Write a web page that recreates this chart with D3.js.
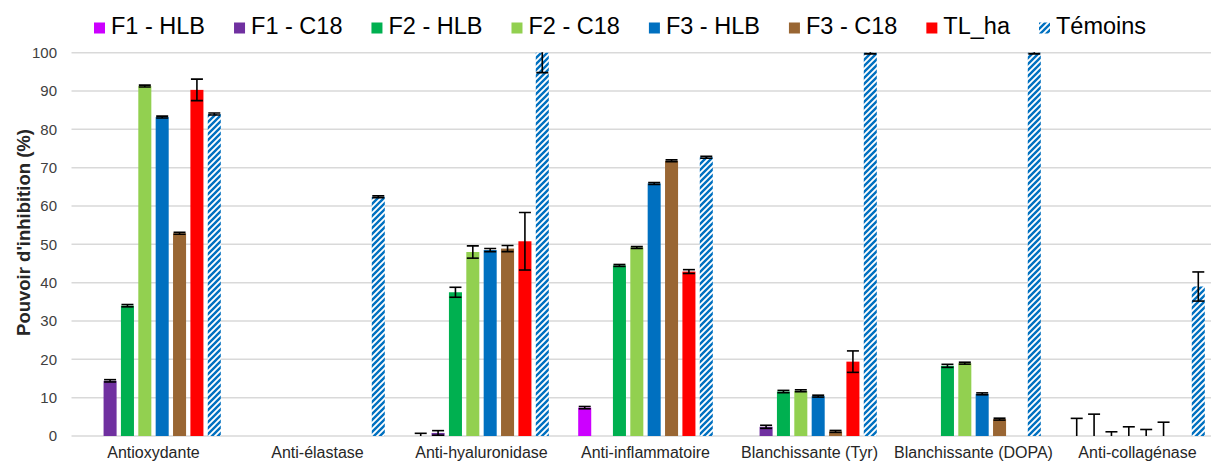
<!DOCTYPE html>
<html>
<head>
<meta charset="utf-8">
<script src="https://cdn.jsdelivr.net/npm/d3@7"></script>
<style>
  html, body { margin: 0; padding: 0; background: #fff; }
  svg { display: block; font-family: "Liberation Sans", Arial, sans-serif; }
</style>
</head>
<body>
<svg id="chart" width="1211" height="462"></svg>
<script>
// ---- Data ----
const categories = ["Antioxydante", "Anti-élastase", "Anti-hyaluronidase", "Anti-inflammatoire",
                    "Blanchissante (Tyr)", "Blanchissante (DOPA)", "Anti-collagénase"];
const seriesNames = ["F1 - HLB", "F1 - C18", "F2 - HLB", "F2 - C18", "F3 - HLB", "F3 - C18", "TL_ha", "Témoins"];
const yTicks = [0, 10, 20, 30, 40, 50, 60, 70, 80, 90, 100];

const f1HLB    = [null, null, 0,    7.4,  null, null, 0];
const f1HLBErr = [0,    0,    0.7,  0.3,  0,    0,    4.6];
const f1C18    = [14.4, null, 0.8,  null, 2.4,  null, 0];
const f1C18Err = [0.3,  0,    0.6,  0,    0.4,  0,    5.7];
const f2HLB    = [34.0, null, 37.5, 44.5, 11.6, 18.3, 0];
const f2HLBErr = [0.3,  0,    1.3,  0.25, 0.3,  0.4,  1.1];
const f2C18    = [91.3, null, 48.0, 49.2, 11.8, 19.0, 0];
const f2C18Err = [0.25, 0,    1.6,  0.25, 0.25, 0.25, 2.4];
const f3HLB    = [83.2, null, 48.5, 65.9, 10.4, 11.0, 0];
const f3HLBErr = [0.25, 0,    0.4,  0.25, 0.25, 0.25, 1.7];
const f3C18    = [52.9, null, 48.9, 71.8, 1.2,  4.4,  0];
const f3C18Err = [0.25, 0,    0.8,  0.25, 0.25, 0.25, 3.6];
const tlHa     = [90.3, null, 50.8, 42.9, 19.4, null, null];
const tlHaErr  = [2.8,  0,    7.5,  0.5,  2.8,  0,    0];
const temoins    = [84.0, 62.4, 100, 72.7, 100, 100, 39.0];
const temoinsErr = [0.25, 0.25, 5.2, 0.25, 0.3, 0.3, 3.8];

const seriesValues = [f1HLB, f1C18, f2HLB, f2C18, f3HLB, f3C18, tlHa, temoins];
const seriesErrors = [f1HLBErr, f1C18Err, f2HLBErr, f2C18Err, f3HLBErr, f3C18Err, tlHaErr, temoinsErr];
const seriesColors = ["#CC00FF", "#7030A0", "#00B050", "#92D050", "#0070C0", "#996633", "#FF0000", "url(#stripes)"];

// ---- Layout ----
const svg = d3.select("#chart");
const plotLeft = 71.5, bandW = 164, yTop = 52.7, yBottom = 436;

const x = d3.scaleBand().domain(categories).range([plotLeft, plotLeft + bandW * categories.length]);
const xInner = d3.scaleBand().domain(seriesNames).range([14.7, bandW - 14.7]).paddingInner(0.25);
const y = d3.scaleLinear().domain([0, 100]).range([yBottom, yTop]);

// pattern
const defs = svg.append("defs");
const pat = defs.append("pattern").attr("id", "stripes").attr("patternUnits", "userSpaceOnUse")
  .attr("width", 6).attr("height", 6);
pat.append("rect").attr("width", 6).attr("height", 6).attr("fill", "#fff");
pat.append("path").attr("d", "M-1,7 L7,-1 M-4,4 L4,-4 M2,10 L10,2")
  .attr("stroke", "#0070C0").attr("stroke-width", 2.4);
defs.append("clipPath").attr("id", "plotClip").append("rect")
  .attr("x", 0).attr("y", yTop - 0.5).attr("width", 1211).attr("height", yBottom - yTop + 0.5);

// gridlines
svg.append("g").selectAll("line").data(yTicks).join("line")
  .attr("x1", plotLeft).attr("x2", 1211)
  .attr("y1", d => y(d)).attr("y2", d => y(d))
  .attr("stroke", "#D9D9D9").attr("stroke-width", 1.5);

// y axis tick labels
const yAxis = d3.axisLeft(y).tickValues(yTicks).tickSize(0).tickPadding(0);
const yg = svg.append("g").attr("transform", `translate(${57},0)`).call(yAxis);
yg.select(".domain").remove();
yg.selectAll("text").attr("font-size", 15).attr("fill", "#404040")
  .attr("font-family", "Liberation Sans, Arial, sans-serif");

// x axis labels
const xAxis = d3.axisBottom(x).tickSize(0).tickPadding(0);
const xg = svg.append("g").attr("transform", `translate(0,${yBottom})`).call(xAxis);
xg.select(".domain").remove();
xg.selectAll("text").attr("font-size", 16).attr("fill", "#262626").attr("dy", null).attr("y", 22)
  .attr("font-family", "Liberation Sans, Arial, sans-serif");

// bars
const plot = svg.append("g").attr("clip-path", "url(#plotClip)");
const barData = [];
seriesNames.forEach((s, si) => {
  categories.forEach((c, ci) => {
    const v = seriesValues[si][ci];
    if (v !== null) barData.push({ s, si, c, v, e: seriesErrors[si][ci] });
  });
});
plot.selectAll("rect.bar").data(barData.filter(d => d.v > 0)).join("rect")
  .attr("class", "bar")
  .attr("x", d => x(d.c) + xInner(d.s))
  .attr("width", xInner.bandwidth())
  .attr("y", d => y(d.v))
  .attr("height", d => y(0) - y(d.v))
  .attr("fill", d => seriesColors[d.si]);

// error bars
const capW = 12;
const eg = plot.selectAll("g.err").data(barData.filter(d => d.e > 0)).join("g").attr("class", "err")
  .attr("transform", d => `translate(${x(d.c) + xInner(d.s) + xInner.bandwidth() / 2},0)`);
eg.append("line").attr("x1", 0).attr("x2", 0)
  .attr("y1", d => y(d.v + d.e)).attr("y2", d => y(Math.max(0, d.v - d.e)))
  .attr("stroke", "#000").attr("stroke-width", 1.6);
eg.append("line").attr("x1", -capW / 2).attr("x2", capW / 2)
  .attr("y1", d => y(d.v + d.e)).attr("y2", d => y(d.v + d.e))
  .attr("stroke", "#000").attr("stroke-width", 1.6);
eg.filter(d => d.v - d.e > 0).append("line").attr("x1", -capW / 2).attr("x2", capW / 2)
  .attr("y1", d => y(d.v - d.e)).attr("y2", d => y(d.v - d.e))
  .attr("stroke", "#000").attr("stroke-width", 1.6);

// y axis title
svg.append("text")
  .attr("transform", `translate(30,${232.5}) rotate(-90)`)
  .attr("text-anchor", "middle")
  .attr("font-size", 18.5).attr("font-weight", "bold").attr("fill", "#262626")
  .text("Pouvoir d'inhibition (%)");

// legend
const lg = svg.append("g");
let lx = 94;
seriesNames.forEach((s, i) => {
  lg.append("rect").attr("x", lx).attr("y", 22.5).attr("width", 11).attr("height", 11)
    .attr("fill", seriesColors[i]);
  const t = lg.append("text").attr("x", lx + 17).attr("y", 34.3)
    .attr("font-size", 23.5).attr("fill", "#000").text(s);
  lx = lx + 17 + t.node().getComputedTextLength() + 29;
});
</script>
</body>
</html>
